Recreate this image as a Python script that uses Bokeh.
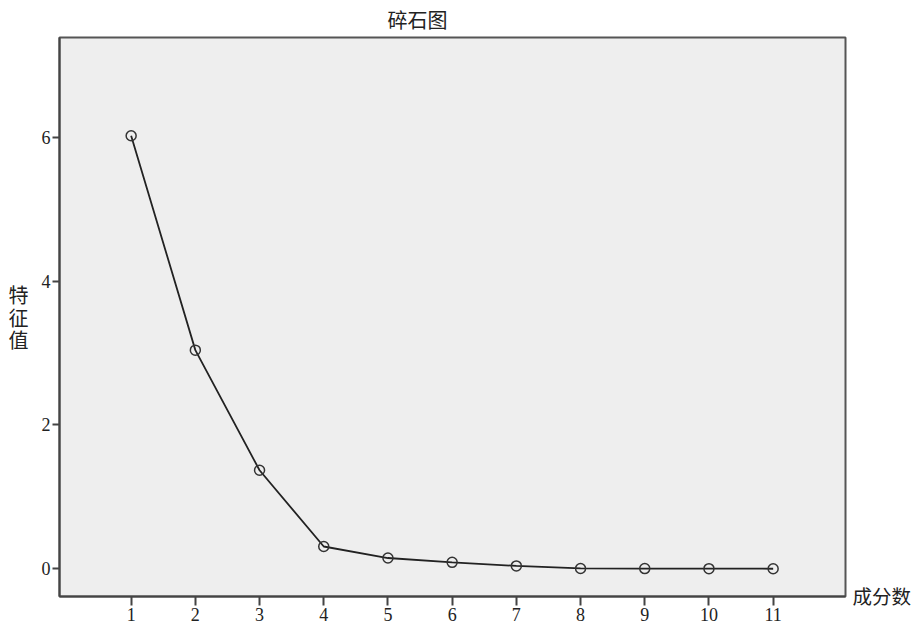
from bokeh.plotting import figure
from bokeh.models import Range1d, FixedTicker, LinearAxis
from bokeh.embed import file_html
from bokeh.resources import INLINE

components = [1, 2, 3, 4, 5, 6, 7, 8, 9, 10, 11]
eigenvalues = [6.02, 3.04, 1.37, 0.31, 0.15, 0.09, 0.04, 0.005, 0.003, 0.002, 0.001]
x_ticks = [1, 2, 3, 4, 5, 6, 7, 8, 9, 10, 11]
y_ticks = [0, 2, 4, 6]

title_text = "碎石图"
x_label = "成分数"
y_label = "特\n征\n值"

CJK = "Noto Sans CJK SC"
SERIF = "Liberation Serif"
SERIF_CJK = "Liberation Serif, Noto Sans CJK SC"

FW, FH = 786, 559
p = figure(frame_width=FW, frame_height=FH,
           x_range=Range1d(-0.116, 12.127), y_range=Range1d(-0.385, 7.386),
           output_backend="svg", toolbar_location=None,
           min_border_left=59, min_border_top=37, min_border_right=66, min_border_bottom=32,
           background_fill_color="#eeeeee", border_fill_color="white")

p.title.text = title_text
p.title.align = "left"
p.title.offset = 328
p.title.text_font = SERIF_CJK
p.title.text_font_size = "20px"
p.title.text_font_style = "normal"
p.title.text_color = "#222222"
p.title.standoff = 12

p.outline_line_color = "#555555"
p.outline_line_width = 2
p.xgrid.visible = False
p.ygrid.visible = False

for ax in (p.xaxis, p.yaxis):
    ax.axis_line_color = "#444444"
    ax.axis_line_width = 2
    ax.major_tick_line_color = "#444444"
    ax.major_tick_line_width = 2
    ax.minor_tick_line_color = None
    ax.major_label_text_font = SERIF
    ax.major_label_text_font_size = "18px"
    ax.major_label_text_color = "#222222"
    ax.major_tick_in = 0

p.xaxis.ticker = FixedTicker(ticks=x_ticks)
p.yaxis.ticker = FixedTicker(ticks=y_ticks)
p.xaxis.major_tick_out = 9
p.yaxis.major_tick_out = 7
p.xaxis.major_label_standoff = 2
p.yaxis.major_label_standoff = 2

p.yaxis.axis_label = y_label
p.yaxis.axis_label_orientation = "horizontal"
p.yaxis.axis_label_text_font = CJK
p.yaxis.axis_label_text_font_size = "20px"
p.yaxis.axis_label_text_font_style = "normal"
p.yaxis.axis_label_text_color = "#222222"
p.yaxis.axis_label_text_line_height = 0.78
p.yaxis.axis_label_standoff = 10

p.line(components, eigenvalues, line_color="#222222", line_width=1.8)
p.scatter(components, eigenvalues, marker="circle", size=10, fill_color=None,
          line_color="#333333", line_width=1.5)

# x-axis title: shown to the right of the frame, level with its bottom edge,
# as the single tick label of an invisible right-hand axis
p.extra_y_ranges = {"xlab": Range1d(-1, FH - 1)}
rax = LinearAxis(y_range_name="xlab", ticker=FixedTicker(ticks=[0]),
                 major_label_overrides={0: x_label})
rax.axis_line_color = None
rax.major_tick_line_color = None
rax.minor_tick_line_color = None
rax.major_label_standoff = 1
rax.major_label_text_font = CJK
rax.major_label_text_font_size = "19.5px"
rax.major_label_text_color = "#222222"
p.add_layout(rax, "right")

open("out.html", "w").write(file_html(p, INLINE))
